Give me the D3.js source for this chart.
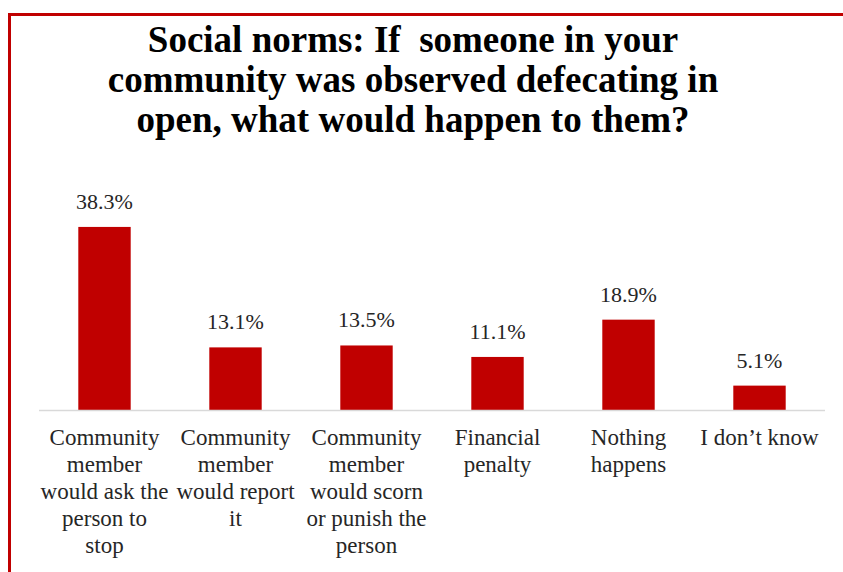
<!DOCTYPE html>
<html>
<head>
<meta charset="utf-8">
<script src="https://cdn.jsdelivr.net/npm/d3@7"></script>
</head>
<body style="margin:0">
<svg id="chart" width="843" height="572" style="display:block"></svg>
<script>
const titleLines = [
  "Social norms: If\u00a0\u00a0someone in your",
  "community was observed defecating in",
  "open, what would happen to them?"
];

const categories = [
  ["Community", "member", "would ask the", "person to", "stop"],
  ["Community", "member", "would report", "it"],
  ["Community", "member", "would scorn", "or punish the", "person"],
  ["Financial", "penalty"],
  ["Nothing", "happens"],
  ["I don\u2019t know"]
];

const values = [38.3, 13.1, 13.5, 11.1, 18.9, 5.1];

const red = "#c00000";
const font = '"Liberation Serif"';

const svg = d3.select("#chart");

// frame (top + left edge visible)
svg.append("rect")
  .attr("x", 9.5).attr("y", 14.5)
  .attr("width", 850).attr("height", 600)
  .attr("fill", "none")
  .attr("stroke", red)
  .attr("stroke-width", 3);

svg.append("g")
  .selectAll("text")
  .data(titleLines)
  .join("text")
  .attr("x", 413)
  .attr("y", (d, i) => 52 + i * 40)
  .attr("text-anchor", "middle")
  .style("font-family", font)
  .style("font-weight", "bold")
  .style("font-size", "37px")
  .attr("fill", "#000")
  .text((d) => d);

const x = d3.scaleBand()
  .domain(d3.range(values.length))
  .range([39, 825])
  .paddingInner(0.6)
  .paddingOuter(0.3);

const y = d3.scaleLinear()
  .domain([0, 40])
  .range([410, 410 - 40 * 4.78]);

svg.append("g")
  .selectAll("rect")
  .data(values)
  .join("rect")
  .attr("x", (d, i) => x(i))
  .attr("y", (d) => y(d))
  .attr("width", x.bandwidth())
  .attr("height", (d) => y(0) - y(d))
  .attr("fill", red);

svg.append("line")
  .attr("x1", 39).attr("x2", 825)
  .attr("y1", 410.5).attr("y2", 410.5)
  .attr("stroke", "#d9d9d9")
  .attr("stroke-width", 1.5);

svg.append("g")
  .selectAll("text")
  .data(values)
  .join("text")
  .attr("x", (d, i) => x(i) + x.bandwidth() / 2)
  .attr("y", (d) => y(d) - 18)
  .attr("text-anchor", "middle")
  .style("font-family", font)
  .style("font-size", "22px")
  .attr("fill", "#262626")
  .text((d) => d.toFixed(1) + "%");

svg.append("g")
  .selectAll("text")
  .data(categories)
  .join("text")
  .attr("text-anchor", "middle")
  .style("font-family", font)
  .style("font-size", "23px")
  .attr("fill", "#262626")
  .each(function (lines, i) {
    d3.select(this)
      .selectAll("tspan")
      .data(lines)
      .join("tspan")
      .attr("x", x(i) + x.bandwidth() / 2)
      .attr("y", (d, j) => 445 + j * 27)
      .text((d) => d);
  });
</script>
</body>
</html>
